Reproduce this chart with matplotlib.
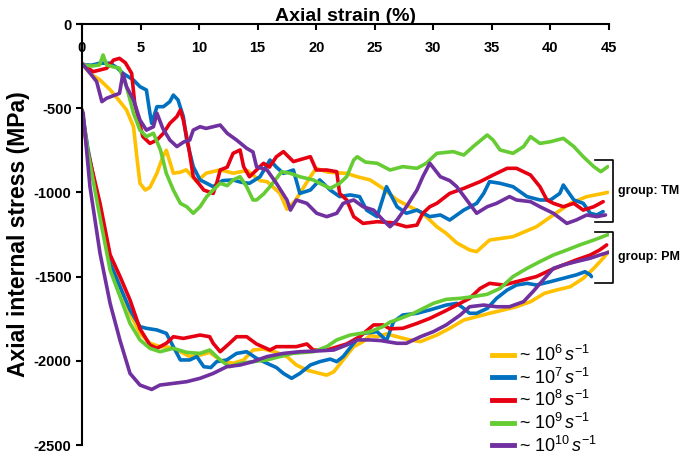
import matplotlib
matplotlib.use("Agg")
import matplotlib.pyplot as plt
from matplotlib.lines import Line2D

plt.rcParams['font.family'] = ['Liberation Sans', 'DejaVu Sans']
plt.rcParams['mathtext.fontset'] = 'custom'
plt.rcParams['mathtext.rm'] = 'Liberation Sans'
plt.rcParams['mathtext.it'] = 'Liberation Sans:italic'
plt.rcParams['axes.unicode_minus'] = False

# strain rates (legend) and colours
rates = [6, 7, 8, 9, 10]
colors = ['#FFC000', '#0070C0', '#E60012', '#66CC33', '#7030A0']

# group TM: (strain %, stress MPa)
tm_yellow_x = [0, 0.8, 1.5, 2.4, 3.0, 3.8, 4.4, 4.7, 4.95, 5.4, 5.8, 6.4, 6.9, 7.2, 7.8, 8.4, 8.9, 9.8,
               10.6, 11.8, 12.9, 14.1, 15.2, 15.8, 16.9, 17.5, 18.2, 19.5, 20.0, 21.0, 22.6, 23.5, 24.6,
               25.7, 26.9, 28.0, 29.1, 30.3, 31.1, 32.0, 33.1, 33.7, 34.8, 36.8, 38.8, 40.25, 41.7,
               43.1, 44.5, 44.9]
tm_yellow_y = [-240, -300, -330, -390, -440, -510, -610, -800, -946, -986, -970, -886, -788, -750,
               -886, -880, -866, -936, -886, -866, -886, -870, -930, -936, -1005, -1100, -1050, -907,
               -857, -880, -887, -907, -926, -976, -1045, -1085, -1124, -1204, -1243, -1300, -1342,
               -1352, -1283, -1263, -1204, -1134, -1065, -1025, -1006, -1000]

tm_blue_x = [0, 0.8, 1.5, 2.4, 3.0, 3.5, 4.4, 4.95, 5.5, 5.8, 5.95, 6.4, 6.95, 7.5, 7.8, 8.2, 8.65,
             8.94, 9.5, 10.08, 10.65, 11.2, 12.0, 12.9, 13.6, 14.3, 15.2, 16.05, 16.6, 17.2, 18.05,
             18.6, 19.5, 20.3, 21.2, 22.0, 22.9, 23.7, 24.3, 25.2, 26.0, 26.3, 26.9, 27.7, 28.6,
             29.7, 30.6, 31.4, 32.6, 33.7, 34.3, 34.8, 35.7, 36.8, 38.0, 39.1, 40.0, 40.8, 41.1,
             41.4, 42.0, 42.8, 43.4, 43.95, 44.5]
tm_blue_y = [-240, -245, -233, -233, -260, -293, -333, -372, -392, -530, -590, -491, -491, -461,
             -422, -451, -550, -689, -847, -926, -946, -966, -930, -926, -940, -946, -907, -808,
             -850, -887, -867, -1006, -986, -926, -986, -1025, -1015, -1025, -1105, -1144, -966,
             -1006, -1085, -1124, -1105, -1144, -1134, -1164, -1105, -1065, -1006, -936, -946, -966,
             -1025, -1045, -1045, -1006, -956, -986, -1045, -1065, -1124, -1134, -1114]

tm_red_x = [0, 0.96, 2.1, 2.7, 3.2, 3.7, 4.24, 4.5, 5.2, 5.8, 6.4, 6.95, 7.5, 8.1, 8.4, 8.65, 9.1,
            9.5, 10.4, 11.2, 11.5, 11.8, 12.4, 12.9, 13.5, 13.8, 14.3, 15.5, 16.0, 16.6, 17.2, 18.05,
            19.5, 20.0, 20.9, 21.75, 22.0, 22.6, 23.2, 24.0, 25.2, 26.5, 27.7, 28.6, 29.1, 29.7,
            30.3, 31.4, 32.6, 34.0, 35.1, 36.3, 37.1, 38.3, 39.1, 39.7, 40.25, 41.1, 42.0, 42.8,
            43.7, 44.5]
tm_red_y = [-240, -283, -263, -214, -204, -230, -293, -471, -669, -709, -689, -649, -590, -550, -511,
            -570, -728, -907, -986, -1006, -946, -867, -850, -768, -748, -847, -907, -827, -850, -788,
            -758, -817, -788, -867, -867, -877, -1006, -1045, -1144, -1184, -1174, -1180, -1204,
            -1194, -1124, -1085, -1065, -1006, -976, -936, -897, -857, -857, -897, -966, -1045,
            -1065, -1085, -1065, -1105, -1085, -1055]

tm_green_x = [0, 0.8, 1.5, 1.8, 2.1, 2.7, 3.2, 3.8, 4.4, 4.95, 5.5, 6.1, 6.7, 7.2, 7.8, 8.4, 8.94,
              9.5, 10.08, 10.65, 11.2, 11.8, 12.4, 12.9, 13.5, 14.06, 14.6, 14.9, 15.5, 16.05, 17.05,
              17.8, 18.6, 19.75, 20.3, 21.2, 22.0, 22.6, 23.2, 23.5, 24.2, 25.2, 26.3, 27.4, 28.6,
              29.4, 30.3, 31.7, 32.6, 33.4, 34.6, 35.1, 35.7, 36.8, 37.7, 38.3, 39.1, 40.0, 41.1,
              42.0, 42.8, 43.7, 44.3, 44.9]
tm_green_y = [-240, -250, -243, -184, -243, -255, -263, -372, -530, -630, -669, -649, -748, -887,
              -986, -1065, -1085, -1124, -1085, -1025, -986, -946, -960, -926, -907, -966, -1045,
              -1045, -1010, -966, -877, -887, -907, -926, -946, -976, -946, -907, -808, -788, -820,
              -827, -867, -847, -857, -827, -768, -758, -778, -728, -659, -689, -748, -768, -728,
              -669, -709, -699, -679, -728, -788, -847, -877, -847]

tm_purple_x = [0, 0.7, 1.25, 1.7, 2.1, 3.2, 3.5, 3.8, 4.4, 4.95, 5.5, 6.1, 6.4, 6.9, 7.5, 8.1, 8.7,
               9.2, 9.5, 10.08, 10.6, 11.2, 11.8, 12.4, 13.2, 14.06, 14.6, 14.9, 15.8, 16.6, 17.5,
               17.8, 18.3, 19.2, 20.04, 20.9, 21.75, 22.3, 23.2, 24.0, 24.9, 25.7, 26.3, 26.9, 27.7,
               28.6, 29.1, 29.7, 30.6, 31.4, 32.0, 32.85, 33.7, 34.6, 35.4, 36.5, 37.1, 38.3, 39.1,
               40.25, 41.4, 42.2, 43.1, 43.95, 44.7]
tm_purple_y = [-233, -293, -342, -461, -441, -412, -293, -372, -451, -570, -630, -610, -530, -620,
               -689, -728, -700, -689, -630, -610, -620, -610, -600, -649, -689, -738, -760, -847,
               -867, -946, -1045, -1105, -1045, -1065, -1124, -1144, -1124, -1065, -1045, -1085,
               -1105, -1164, -1204, -1164, -1085, -986, -907, -827, -907, -930, -966, -1045, -1124,
               -1085, -1065, -1025, -1045, -1055, -1085, -1124, -1184, -1164, -1134, -1144, -1134]

# group PM
pm_yellow_x = [0, 0.5, 1.54, 2.4, 3.25, 4.1, 4.95, 5.8, 6.66, 7.5, 8.4, 9.2, 10.08, 10.9, 11.8, 12.9,
               13.8, 14.6, 15.5, 16.6, 17.5, 18.3, 19.2, 20.3, 20.9, 21.5, 22.3, 23.2, 24.0, 24.6,
               25.2, 26.0, 26.9, 28.0, 28.9, 30.3, 31.4, 32.6, 33.7, 34.8, 36.0, 37.1, 38.3, 39.5,
               40.5, 41.7, 42.8, 43.7, 44.5, 44.95]
pm_yellow_y = [-511, -750, -1100, -1401, -1560, -1718, -1837, -1896, -1916, -1920, -1946, -1975,
               -1966, -1950, -1995, -2015, -1995, -1936, -1930, -1950, -1975, -2025, -2055, -2075,
               -2085, -2065, -1995, -1916, -1886, -1850, -1857, -1840, -1857, -1876, -1886, -1847,
               -1807, -1758, -1738, -1718, -1698, -1679, -1649, -1599, -1580, -1560, -1510, -1451,
               -1391, -1352]

pm_blue_x = [0, 0.5, 1.54, 2.4, 3.25, 4.1, 4.95, 5.5, 6.4, 7.2, 7.8, 8.4, 9.2, 9.8, 10.4, 11.0, 11.5,
             12.36, 13.2, 14.06, 14.9, 15.8, 16.6, 17.2, 17.9, 18.6, 19.5, 20.3, 21.2, 21.75, 22.3,
             23.2, 24.0, 25.2, 26.0, 26.6, 27.4, 28.6, 29.7, 31.1, 32.0, 32.6, 33.1, 33.7, 34.6,
             35.4, 36.3, 37.1, 38.0, 38.8, 40.0, 41.1, 42.2, 42.95, 43.4, 43.5]
pm_blue_y = [-511, -740, -1110, -1421, -1560, -1698, -1797, -1807, -1817, -1837, -1916, -1995, -1995,
             -1975, -2035, -2040, -2005, -1995, -1956, -1946, -1985, -2015, -2040, -2075, -2104,
             -2075, -2025, -2005, -1990, -2005, -1975, -1896, -1837, -1827, -1880, -1768, -1728,
             -1718, -1698, -1669, -1659, -1689, -1718, -1718, -1689, -1629, -1580, -1550, -1540,
             -1550, -1530, -1510, -1490, -1471, -1490, -1500]

pm_red_x = [0, 0.4, 1.54, 2.4, 3.25, 4.1, 4.95, 5.8, 6.4, 7.2, 7.8, 8.65, 10.08, 10.9, 11.2, 11.8,
            12.6, 13.2, 14.06, 14.9, 16.05, 16.6, 17.2, 18.3, 19.2, 19.75, 20.9, 22.6, 23.7, 24.9,
            25.7, 26.3, 27.4, 28.6, 29.7, 30.9, 32.0, 33.1, 34.0, 34.8, 36.0, 37.1, 38.8, 40.0, 41.1,
            42.2, 43.4, 44.2, 44.8]
pm_red_y = [-511, -728, -1065, -1370, -1500, -1639, -1810, -1906, -1926, -1896, -1857, -1867, -1847,
            -1857, -1896, -1946, -1896, -1857, -1857, -1900, -1936, -1916, -1916, -1916, -1900, -1936,
            -1936, -1900, -1857, -1787, -1787, -1810, -1807, -1778, -1748, -1708, -1669, -1629,
            -1570, -1540, -1550, -1530, -1500, -1461, -1431, -1401, -1372, -1342, -1312]

pm_green_x = [0, 0.5, 1.54, 2.4, 3.25, 4.1, 4.95, 5.8, 6.66, 7.8, 8.94, 10.08, 10.9, 11.8, 12.6, 13.5,
              14.6, 15.8, 16.9, 18.0, 19.75, 20.9, 21.75, 22.9, 24.0, 24.6, 25.7, 26.3, 27.2, 28.3,
              30.0, 31.1, 32.3, 33.4, 34.6, 35.7, 36.8, 38.0, 39.1, 40.25, 41.4, 42.5, 43.7, 44.95]
pm_green_y = [-511, -760, -1150, -1461, -1619, -1778, -1876, -1926, -1946, -1926, -1950, -1956, -1936,
              -1995, -2035, -2015, -2005, -1995, -1975, -1956, -1946, -1916, -1876, -1847, -1835,
              -1827, -1797, -1770, -1748, -1718, -1659, -1635, -1629, -1619, -1605, -1570, -1500,
              -1451, -1411, -1372, -1342, -1312, -1283, -1250]

pm_purple_x = [0, 0.1, 0.68, 1.54, 2.4, 3.25, 4.1, 4.95, 5.95, 6.66, 7.8, 8.94, 10.08, 11.2, 12.36,
               13.5, 14.6, 15.8, 17.2, 18.6, 20.0, 21.5, 22.6, 23.5, 24.6, 25.5, 26.9, 27.7, 28.9,
               30.0, 31.1, 32.3, 33.1, 34.3, 35.4, 36.5, 37.7, 38.5, 39.5, 40.25, 41.1, 42.2, 43.4,
               44.2, 44.95]
pm_purple_y = [-511, -530, -966, -1362, -1659, -1880, -2075, -2144, -2170, -2144, -2134, -2124, -2104,
               -2075, -2035, -2025, -2005, -1975, -1956, -1946, -1942, -1936, -1906, -1876, -1876,
               -1880, -1896, -1896, -1857, -1827, -1787, -1728, -1679, -1669, -1679, -1679, -1649,
               -1590, -1510, -1451, -1431, -1411, -1391, -1372, -1356]

tm = [(tm_yellow_x, tm_yellow_y), (tm_blue_x, tm_blue_y), (tm_red_x, tm_red_y),
      (tm_green_x, tm_green_y), (tm_purple_x, tm_purple_y)]
pm = [(pm_yellow_x, pm_yellow_y), (pm_blue_x, pm_blue_y), (pm_red_x, pm_red_y),
      (pm_green_x, pm_green_y), (pm_purple_x, pm_purple_y)]

# bracket extents for the group labels (MPa)
tm_range = (-808, -1176)
pm_range = (-1233, -1536)

fig = plt.figure(figsize=(6.85, 4.54), dpi=100)
ax = fig.add_axes([82 / 685, 9 / 454, 527 / 685, 421 / 454])

lw = 2.6
for (x, y), c in zip(tm, colors):
    ax.plot(x, y, color=c, lw=lw, solid_joinstyle='round', solid_capstyle='round')
for (x, y), c in zip(pm, colors):
    ax.plot(x, y, color=c, lw=lw, solid_joinstyle='round', solid_capstyle='round')

ax.set_xlim(0, 45)
ax.set_ylim(-2500, 0)
ax.set_xticks(range(0, 46, 5))
ax.set_yticks(range(-2500, 1, 500))

ax.spines['bottom'].set_visible(False)
ax.spines['right'].set_visible(False)
ax.spines['top'].set_linewidth(1.5)
ax.spines['left'].set_linewidth(1.5)

ax.xaxis.set_label_position('top')
ax.tick_params(axis='x', bottom=False, labelbottom=False, top=True, labeltop=True,
               direction='in', length=4, width=1.5, pad=-22, labelsize=10.5)
ax.tick_params(axis='y', direction='out', length=4, width=1.5, labelsize=10.5)
for lab in ax.get_xticklabels() + ax.get_yticklabels():
    lab.set_fontweight('bold')
ax.set_xlabel('Axial strain (%)', fontsize=14, fontweight='bold', labelpad=2)
ax.set_ylabel('Axial internal stress (MPa)', fontsize=16.5, fontweight='bold', labelpad=3)

# group brackets
for (top, bot), name in [(tm_range, 'TM'), (pm_range, 'PM')]:
    bx = [43.8, 45.35, 45.35, 43.8]
    by = [top, top, bot, bot]
    ax.plot(bx, by, color='black', lw=1.2, clip_on=False)
    ax.text(45.8, (top + bot) / 2, 'group: ' + name, fontsize=9, fontweight='bold',
            va='center', ha='left', clip_on=False)

handles = [Line2D([], [], color=c, lw=3.5) for c in colors]
labels = ['~ ' + r'$10^{%d}\,s^{-1}$' % r for r in rates]
ax.legend(handles, labels, loc='lower left', bbox_to_anchor=(0.778, -0.025), frameon=False,
          fontsize=13, handlelength=1.2, handletextpad=0.3, labelspacing=0.14,
          borderaxespad=0, borderpad=0)

fig.savefig('out.png', dpi=100)
